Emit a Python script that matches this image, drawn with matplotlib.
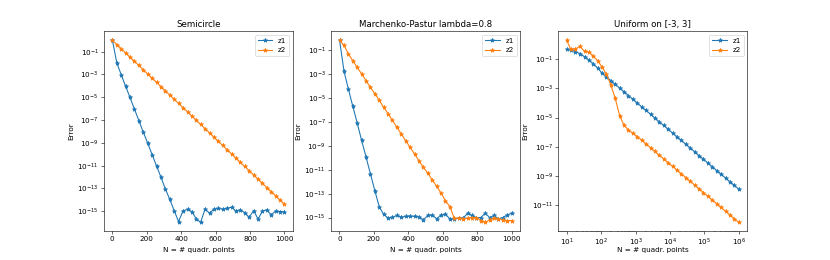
import numpy as np
import matplotlib
matplotlib.use("Agg")
import matplotlib.pyplot as plt

# Quadrature sizes
N_lin = [1, 27, 52, 78, 103, 129, 155, 180, 206, 232, 257, 283, 308, 334, 360, 385,
         411, 437, 462, 488, 513, 539, 565, 590, 616, 641, 667, 693, 718, 744, 769,
         795, 821, 847, 872, 898, 923, 949, 975, 1000]
N_log = [10, 13, 18, 24, 33, 44, 59, 79, 106, 143, 191, 257, 346, 464, 624, 838,
         1126, 1512, 2031, 2729, 3666, 4925, 6617, 8889, 11942, 16043, 21544, 28943,
         38883, 52237, 70170, 94281, 126638, 170125, 228560, 307000, 412463, 554100,
         744380, 1000000]

# log10(error)
semi_z1 = [0.0, -2.0, -3.02, -4.05, -5.01, -6.04, -7.06, -8.06, -9.03, -10.05, -11.02,
           -12.01, -13.04, -13.95, -14.97, -15.9, -14.97, -14.83, -15.03, -15.67, -15.97,
           -14.8, -15.18, -14.82, -14.74, -14.82, -14.74, -14.65, -14.97, -14.88, -15.12,
           -15.53, -14.94, -15.7, -14.97, -14.88, -15.32, -14.97, -15.03, -15.03]
semi_z2 = [0.0, -0.37, -0.74, -1.11, -1.48, -1.85, -2.21, -2.58, -2.95, -3.32, -3.69,
           -4.06, -4.43, -4.8, -5.17, -5.54, -5.9, -6.27, -6.64, -7.01, -7.38, -7.75,
           -8.12, -8.49, -8.86, -9.23, -9.59, -9.96, -10.33, -10.7, -11.07, -11.44,
           -11.81, -12.18, -12.55, -12.92, -13.28, -13.65, -14.02, -14.39]

mp_z1 = [-0.16, -2.76, -4.24, -5.69, -7.06, -8.54, -9.94, -11.34, -12.76, -14.13, -14.72,
         -15.05, -14.97, -14.83, -14.97, -14.91, -14.88, -14.91, -14.94, -15.19, -14.83,
         -14.78, -15.11, -14.78, -14.72, -15.11, -15.11, -15.06, -15.06, -14.64, -14.83,
         -15.0, -15.0, -14.64, -15.0, -14.83, -15.11, -15.0, -14.78, -14.64]
mp_z2 = [-0.16, -0.58, -1.3, -1.87, -2.42, -2.96, -3.54, -4.1, -4.63, -5.19, -5.78,
         -6.31, -6.87, -7.45, -8.01, -8.57, -9.13, -9.69, -10.25, -10.8, -11.28, -11.84,
         -12.4, -12.96, -13.6, -14.08, -15.06, -15.06, -15.11, -15.06, -15.0, -15.0,
         -15.25, -15.4, -15.2, -15.06, -15.11, -15.2, -15.25, -15.25]

uni_z1 = [-0.32, -0.37, -0.47, -0.61, -0.82, -1.05, -1.3, -1.6, -1.94, -2.2, -2.46,
          -2.72, -2.97, -3.23, -3.49, -3.74, -4.0, -4.26, -4.51, -4.77, -5.03, -5.29,
          -5.54, -5.8, -6.06, -6.31, -6.57, -6.83, -7.08, -7.34, -7.6, -7.86, -8.11,
          -8.37, -8.63, -8.88, -9.14, -9.4, -9.65, -9.91]
uni_z2 = [0.3, -0.3, -0.29, -0.12, -0.45, -0.52, -0.77, -1.1, -1.52, -2.03, -2.75,
          -3.68, -4.88, -5.53, -5.85, -6.08, -6.3, -6.55, -6.81, -7.06, -7.32, -7.58,
          -7.83, -8.09, -8.34, -8.6, -8.86, -9.11, -9.37, -9.62, -9.88, -10.14, -10.39,
          -10.65, -10.9, -11.16, -11.42, -11.67, -11.93, -12.18]

titles = ["Semicircle", "Marchenko-Pastur lambda=0.8", "Uniform on [-3, 3]"]
series = [(N_lin, semi_z1, semi_z2), (N_lin, mp_z1, mp_z2), (N_log, uni_z1, uni_z2)]

fig, axes = plt.subplots(1, 3, figsize=(15.97, 5.0), dpi=52)
for i, (ax, (N, a, b)) in enumerate(zip(axes, series)):
    ax.plot(N, 10.0 ** np.array(a), marker="*", label="z1")
    ax.plot(N, 10.0 ** np.array(b), marker="*", label="z2")
    ax.set_yscale("log")
    if i == 2:
        ax.set_xscale("log")
    ax.set_title(titles[i])
    ax.set_xlabel("N = # quadr. points", va="center")
    ax.xaxis.set_label_coords(0.5, -0.094)
    ax.set_ylabel("Error")
    ax.legend(loc="upper right")

fig.savefig("out.png", dpi=52)
